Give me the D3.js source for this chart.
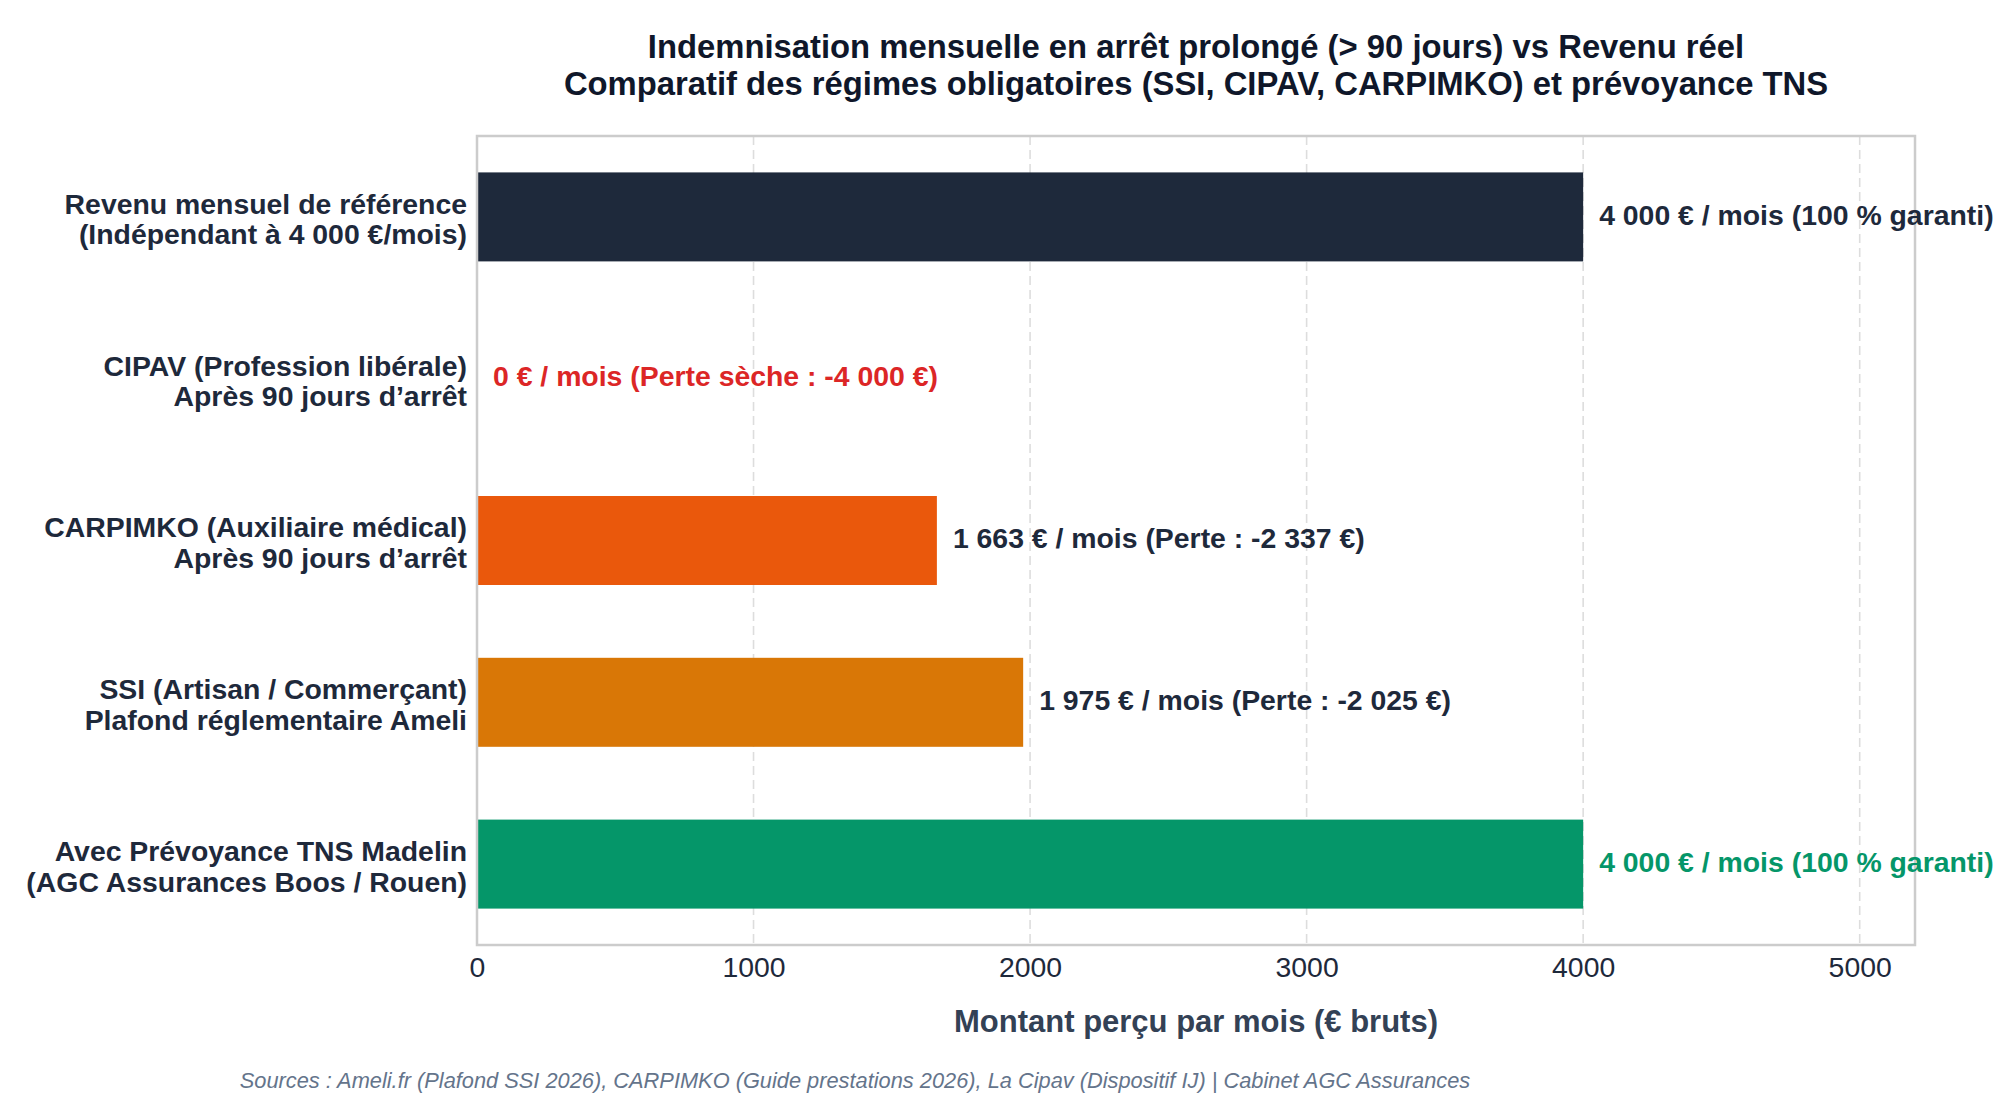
<!DOCTYPE html>
<html>
<head>
<meta charset="utf-8">
<script src="https://cdn.jsdelivr.net/npm/d3@7"></script>
<style>
  html, body { margin: 0; padding: 0; background: #ffffff; }
  svg { display: block; }
  text { font-family: "Liberation Sans", Arial, sans-serif; }
</style>
</head>
<body>
<svg id="chart" width="2000" height="1100"></svg>
<script>
// ---- Data ----
const categories = [
  ["Revenu mensuel de référence", "(Indépendant à 4 000 €/mois)"],
  ["CIPAV (Profession libérale)", "Après 90 jours d’arrêt"],
  ["CARPIMKO (Auxiliaire médical)", "Après 90 jours d’arrêt"],
  ["SSI (Artisan / Commerçant)", "Plafond réglementaire Ameli"],
  ["Avec Prévoyance TNS Madelin", "(AGC Assurances Boos / Rouen)"]
];
const values = [4000, 0, 1663, 1975, 4000];
const valueLabels = [
  "4 000 € / mois (100 % garanti)",
  "0 € / mois (Perte sèche : -4 000 €)",
  "1 663 € / mois (Perte : -2 337 €)",
  "1 975 € / mois (Perte : -2 025 €)",
  "4 000 € / mois (100 % garanti)"
];
const barColors = ["#1e293b", "#dc2626", "#ea580c", "#d97706", "#059669"];
const labelColors = ["#1e293b", "#dc2626", "#1e293b", "#1e293b", "#059669"];
const xTicks = [0, 1000, 2000, 3000, 4000, 5000];
const xMax = 5200;
const titleLines = [
  "Indemnisation mensuelle en arrêt prolongé (> 90 jours) vs Revenu réel",
  "Comparatif des régimes obligatoires (SSI, CIPAV, CARPIMKO) et prévoyance TNS"
];
const xAxisTitle = "Montant perçu par mois (€ bruts)";
const sourceText = "Sources : Ameli.fr (Plafond SSI 2026), CARPIMKO (Guide prestations 2026), La Cipav (Dispositif IJ) | Cabinet AGC Assurances";

// ---- Layout ----
const plot = { left: 477, right: 1915, top: 136, bottom: 945 };
const svg = d3.select("#chart");

const x = d3.scaleLinear().domain([0, xMax]).range([plot.left, plot.right]);
const y = d3.scaleBand()
  .domain(d3.range(categories.length))
  .range([plot.top, plot.bottom])
  .paddingInner(0.45)
  .paddingOuter(0.225);

// grid
svg.append("g")
  .selectAll("line")
  .data(xTicks.filter(t => t > 0))
  .join("line")
  .attr("x1", d => x(d)).attr("x2", d => x(d))
  .attr("y1", plot.top).attr("y2", plot.bottom)
  .attr("stroke", "#dddddd")
  .attr("stroke-width", 1.6)
  .attr("stroke-dasharray", "9,5");

// bars
svg.append("g")
  .selectAll("rect")
  .data(values)
  .join("rect")
  .attr("x", x(0))
  .attr("y", (d, i) => y(i))
  .attr("width", d => x(d) - x(0))
  .attr("height", y.bandwidth())
  .attr("fill", (d, i) => barColors[i]);

// frame
svg.append("rect")
  .attr("x", plot.left).attr("y", plot.top)
  .attr("width", plot.right - plot.left)
  .attr("height", plot.bottom - plot.top)
  .attr("fill", "none")
  .attr("stroke", "#cccccc")
  .attr("stroke-width", 2.5);

// value labels
svg.append("g")
  .selectAll("text")
  .data(values)
  .join("text")
  .attr("x", d => x(d) + 16)
  .attr("y", (d, i) => y(i) + y.bandwidth() / 2)
  .attr("dy", "0.27em")
  .attr("font-size", 28.4)
  .attr("font-weight", "bold")
  .attr("fill", (d, i) => labelColors[i])
  .text((d, i) => valueLabels[i]);

// y labels
const lineGap = 30.6;
const yl = svg.append("g")
  .selectAll("text")
  .data(categories)
  .join("text")
  .attr("text-anchor", "end")
  .attr("font-size", 28.4)
  .attr("font-weight", "bold")
  .attr("fill", "#1e293b");
yl.each(function(d, i) {
  const cy = y(i) + y.bandwidth() / 2 + 2;
  d3.select(this).selectAll("tspan")
    .data(d)
    .join("tspan")
    .attr("x", plot.left - 10)
    .attr("y", (t, j) => cy + (j - 0.5) * lineGap)
    .attr("dy", "0.36em")
    .text(t => t);
});

// x axis
const xAxis = d3.axisBottom(x).tickValues(xTicks).tickFormat(d3.format("d")).tickSize(0).tickPadding(12);
const gx = svg.append("g").attr("transform", `translate(0,${plot.bottom})`).call(xAxis);
gx.select(".domain").remove();
gx.selectAll("text")
  .attr("font-size", 28.4)
  .attr("fill", "#1e293b")
  .style("font-family", "'Liberation Sans', Arial, sans-serif");

// x axis title
svg.append("text")
  .attr("x", (plot.left + plot.right) / 2)
  .attr("y", 1021)
  .attr("dy", "0.36em")
  .attr("text-anchor", "middle")
  .attr("font-size", 31)
  .attr("font-weight", "bold")
  .attr("fill", "#334155")
  .text(xAxisTitle);

// title
svg.append("g")
  .selectAll("text")
  .data(titleLines)
  .join("text")
  .attr("x", (plot.left + plot.right) / 2)
  .attr("y", (d, i) => 46 + i * 37)
  .attr("dy", "0.36em")
  .attr("text-anchor", "middle")
  .attr("font-size", 32.8)
  .attr("font-weight", "bold")
  .attr("fill", "#0f172a")
  .text(d => d);

// source
svg.append("text")
  .attr("x", 855)
  .attr("y", 1080)
  .attr("dy", "0.36em")
  .attr("text-anchor", "middle")
  .attr("font-size", 21.8)
  .attr("font-style", "italic")
  .attr("fill", "#64748b")
  .text(sourceText);
</script>
</body>
</html>
